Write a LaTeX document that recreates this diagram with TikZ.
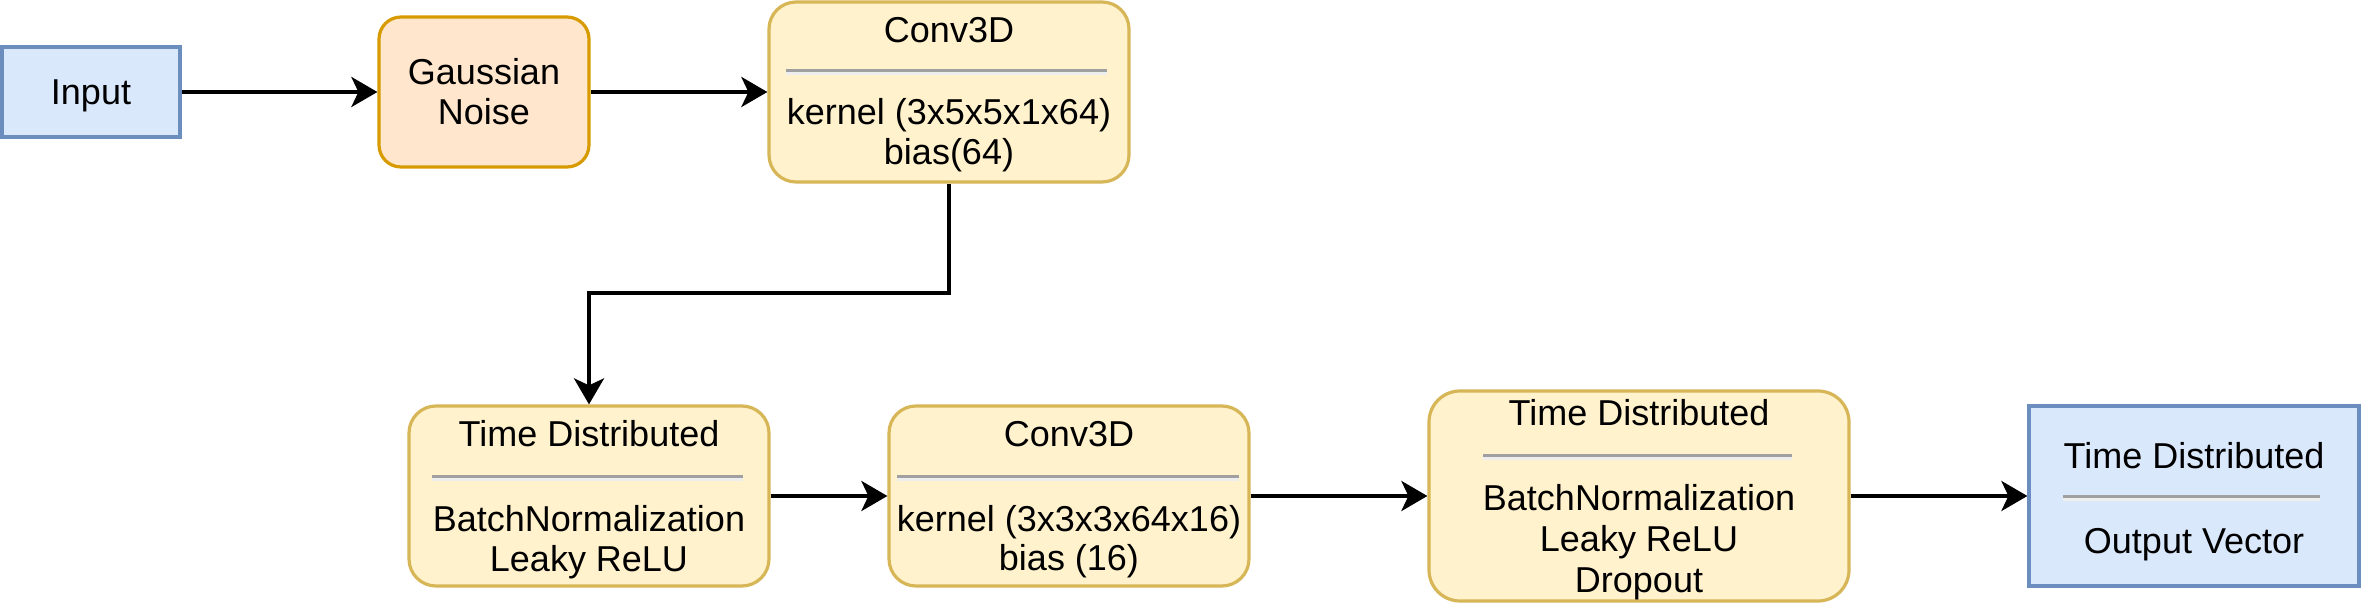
\documentclass[tikz,border=0pt]{standalone}
\usepackage{fontspec}
\setmainfont{Liberation Sans}
\usetikzlibrary{arrows.meta}
\definecolor{bluefill}{HTML}{DAE8FC}
\definecolor{bluedraw}{HTML}{6C8EBF}
\definecolor{orfill}{HTML}{FFE6CC}
\definecolor{ordraw}{HTML}{D79B00}
\definecolor{yfill}{HTML}{FFF2CC}
\definecolor{ydraw}{HTML}{D6B656}
\definecolor{sepgray}{HTML}{A0A0A0}
\definecolor{seplight}{HTML}{EEEEEE}
\begin{document}
\begin{tikzpicture}[x=0.5pt,y=-0.5pt,
  box/.style={draw, line width=1.6pt, inner sep=0pt},
  bluebox/.style={box, fill=bluefill, draw=bluedraw},
  orbox/.style={box, fill=orfill, draw=ordraw},
  ybox/.style={box, fill=yfill, draw=ydraw},
  txt/.style={anchor=base, inner sep=0pt, font=\fontsize{18}{21.6}\selectfont},
  sepline/.style={draw=sepgray, line width=1.5pt},
  seplo/.style={draw=seplight, line width=1.5pt},
  arr/.style={line width=2pt, -{Stealth[length=13pt,width=15pt,inset=3.5pt]}}
]
\useasboundingbox (0,0) rectangle (2361,603);

% boxes
\node[bluebox, minimum width=89pt, minimum height=45pt] (in) at (91,92) {};
\node[orbox, rounded corners=11pt, minimum width=105pt, minimum height=75pt] (gn) at (484,92) {};
\node[ybox, rounded corners=13.5pt, minimum width=180pt, minimum height=90pt] (c1) at (949,92) {};
\node[ybox, rounded corners=13.5pt, minimum width=180pt, minimum height=90pt] (td1) at (589,496) {};
\node[ybox, rounded corners=13.5pt, minimum width=180pt, minimum height=90pt] (c2) at (1069,496) {};
\node[ybox, rounded corners=15.5pt, minimum width=210pt, minimum height=105pt] (td2) at (1639,496) {};
\node[bluebox, minimum width=165pt, minimum height=90pt] (out) at (2194,496) {};

% texts
\node[txt] (inT) at (91,105) {Input};
\node[txt] (gnA) at (484,85) {Gaussian};
\node[txt] (gnB) at (484,125) {Noise};

\node[txt] (c1A) at (949,43) {Conv3D};
\draw[sepline] (786,70.5) -- (1107,70.5);
\draw[seplo] (786,73.5) -- (1107,73.5);
\node[txt] (c1B) at (949,125) {kernel (3x5x5x1x64)};
\node[txt] (c1C) at (949,165) {bias(64)};

\node[txt] (td1A) at (589,447) {Time Distributed};
\draw[sepline] (432,476.5) -- (743,476.5);
\draw[seplo] (432,479.5) -- (743,479.5);
\node[txt] (td1B) at (589,532) {BatchNormalization};
\node[txt] (td1C) at (589,572) {Leaky ReLU};

\node[txt] (c2A) at (1069,447) {Conv3D};
\draw[sepline] (897,476.5) -- (1239,476.5);
\draw[seplo] (897,479.5) -- (1239,479.5);
\node[txt] (c2B) at (1069,532) {kernel (3x3x3x64x16)};
\node[txt] (c2C) at (1069,571) {bias (16)};

\node[txt] (td2A) at (1639,426) {Time Distributed};
\draw[sepline] (1483,455.5) -- (1792,455.5);
\draw[seplo] (1483,458.5) -- (1792,458.5);
\node[txt] (td2B) at (1639,511) {BatchNormalization};
\node[txt] (td2C) at (1639,552) {Leaky ReLU};
\node[txt] (td2D) at (1639,593) {Dropout};

\node[txt] (outA) at (2194,469) {Time Distributed};
\draw[sepline] (2063,496.5) -- (2320,496.5);
\draw[seplo] (2063,499.5) -- (2320,499.5);
\node[txt] (outB) at (2194,554) {Output Vector};

% connectors
\coordinate (bend) at (949,293);
\draw[arr] (in.east) -- (gn.west);
\draw[arr] (gn.east) -- (c1.west);
\draw[arr] (c1.south) -- (bend) -| (td1.north);
\draw[arr] (td1.east) -- (c2.west);
\draw[arr] (c2.east) -- (td2.west);
\draw[arr] (td2.east) -- (out.west);
\end{tikzpicture}
\end{document}
